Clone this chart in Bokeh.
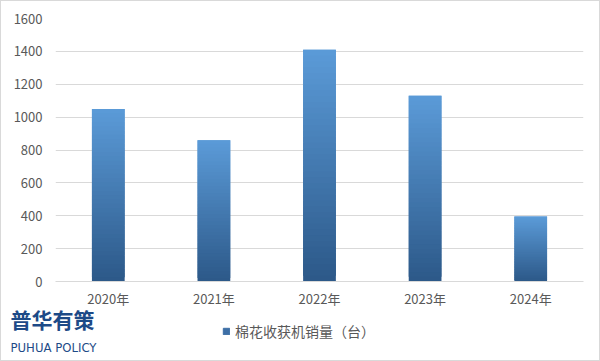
from bokeh.plotting import figure
from bokeh.layouts import column
from bokeh.models import Label, Legend, LegendItem, FactorRange, Range1d
from bokeh.embed import file_html
from bokeh.resources import INLINE

years = ["2020年", "2021年", "2022年", "2023年", "2024年"]
sales = [1050, 860, 1410, 1130, 395]
y_ticks = [0, 200, 400, 600, 800, 1000, 1200, 1400, 1600]
series_name = "棉花收获机销量（台）"

FONT = "Noto Sans CJK SC"
TOP = (91, 155, 216)
BOT = (44, 88, 136)
N = 40

p = figure(x_range=FactorRange(*years), y_range=(0, 1600), width=598, height=310,
           output_backend="svg", toolbar_location=None,
           min_border_left=54, min_border_right=16, min_border_top=17, min_border_bottom=30)
p.frame_align = False
p.outline_line_color = None
p.background_fill_color = "white"
p.border_fill_color = "white"

xs, bots, tops, cols = [], [], [], []
for yr, v in zip(years, sales):
    for k in range(N):
        t = (k + 0.5) / N
        c = tuple(int(round(BOT[j] + (TOP[j] - BOT[j]) * t)) for j in range(3))
        xs.append(yr)
        bots.append(v * k / N)
        tops.append(v * min(k + 2, N) / N)
        cols.append("#%02x%02x%02x" % c)
p.vbar(x=xs, bottom=bots, top=tops, width=0.31, fill_color=cols, line_color=None)

p.ygrid.grid_line_color = "#d9d9d9"
p.ygrid.ticker = y_ticks
p.xgrid.grid_line_color = None
p.yaxis.ticker = y_ticks
p.yaxis.axis_line_color = None
p.yaxis.major_tick_line_color = None
p.yaxis.minor_tick_line_color = None
p.yaxis.major_tick_out = 0
p.yaxis.major_tick_in = 0
p.yaxis.major_label_standoff = 13
p.xaxis.axis_line_color = "#d9d9d9"
p.xaxis.major_tick_line_color = None
p.xaxis.minor_tick_line_color = None
p.xaxis.major_tick_out = 0
p.xaxis.major_tick_in = 0
p.xaxis.major_label_standoff = 7
for ax in (p.xaxis, p.yaxis):
    ax.major_label_text_font = FONT
    ax.major_label_text_font_size = "13px"
    ax.major_label_text_color = "#595959"

# footer: legend and logo
f = figure(x_range=Range1d(0, 598), y_range=Range1d(0, 57), width=598, height=57,
           output_backend="svg", toolbar_location=None, x_axis_type=None, y_axis_type=None,
           min_border=0, min_border_left=0, min_border_right=0, min_border_top=0, min_border_bottom=0)
f.frame_align = False
f.margin = (-8, 0, 0, 0)
f.outline_line_color = None
f.grid.visible = False
f.border_fill_color = None
f.background_fill_color = None
dummy = f.vbar(x=[-100], top=[0], width=0.01, fill_color="#3d6fa6", line_color="#3d6fa6")

legend = Legend(items=[LegendItem(label=series_name, renderers=[dummy])],
                location=(221, 19), orientation="horizontal",
                padding=0, margin=0, border_line_color=None, background_fill_alpha=0,
                glyph_width=8, glyph_height=8, label_height=16, label_standoff=5,
                label_text_font=FONT, label_text_font_size="14px", label_text_color="#595959")
f.add_layout(legend, "center")

f.add_layout(Label(x=9, y=42, text="普华有策", text_baseline="middle",
                   text_font=FONT, text_font_size="21px", text_font_style="bold",
                   text_color="#1d4a87"))
f.add_layout(Label(x=9, y=13, text="PUHUA POLICY", text_baseline="middle",
                   text_font="DejaVu Sans Condensed", text_font_size="13px",
                   text_color="#1d4a87"))

layout = column(p, f, spacing=0, styles={"border": "1px solid #d9d9d9"})
open("out.html", "w").write(file_html(layout, INLINE))
